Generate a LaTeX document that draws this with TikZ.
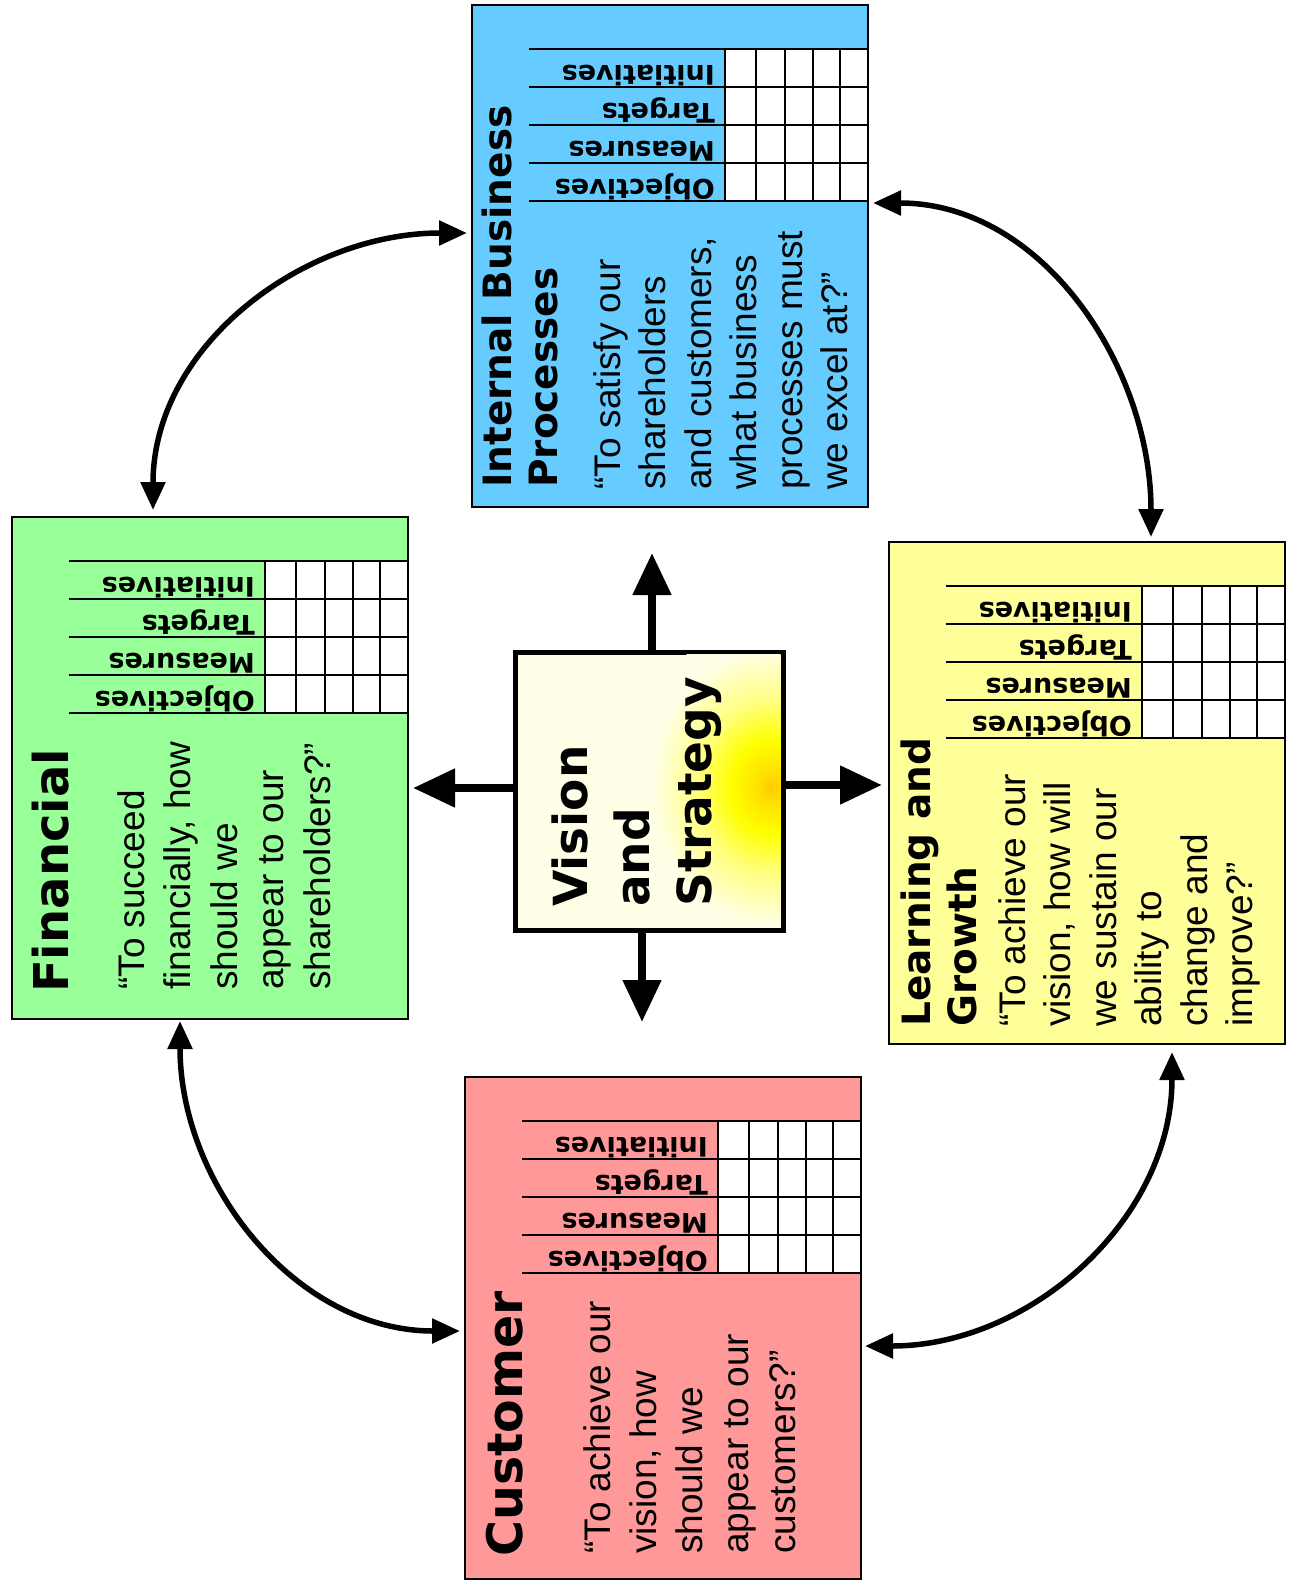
\documentclass[tikz,border=0pt]{standalone}
\usepackage{fontspec}
\setmainfont{Liberation Sans}
\newfontfamily\bscbold{DejaVu Sans}
\usetikzlibrary{arrows.meta}

\definecolor{ibpblue}{RGB}{102,204,255}
\definecolor{fingreen}{RGB}{153,255,153}
\definecolor{lgyellow}{RGB}{255,255,153}
\definecolor{cuspink}{RGB}{255,153,153}
\definecolor{vscream}{RGB}{255,255,232}
\definecolor{vscore}{RGB}{255,200,0}

% warm glow in the vision-and-strategy box
\pgfdeclareradialshading{vsglow}{\pgfpoint{0bp}{0bp}}{%
  color(0bp)=(vscore); color(2bp)=(vscore!60!yellow); color(7bp)=(yellow);
  color(13bp)=(yellow!45!vscream); color(21bp)=(vscream); color(50bp)=(vscream)}

% the measurement table in the upper right part of a perspective panel
\newcommand\bsctable[1]{%
  \fill[white] (253,44) rectangle (396,196);
  \foreach \yy in {44,82,120,158,196} \draw[gridline] (57,\yy) -- (396,\yy);
  \foreach \xx in {253,284,313,341,368,396} \draw[gridline] (\xx,44) -- (\xx,196);
  \node[rowlabel] (#1-ini) at (243,63) {Initiatives};
  \node[rowlabel] (#1-tar) at (243,101) {Targets};
  \node[rowlabel] (#1-mea) at (243,139) {Measures};
  \node[rowlabel] (#1-obj) at (243,177) {Objectives};
}

\begin{document}
\begin{tikzpicture}[x=1pt, y=-1pt,
  panel/.style={draw, line width=2.5pt, minimum width=396pt, minimum height=502pt,
    anchor=north west, inner sep=0pt, outer sep=0pt},
  gridline/.style={line width=2.5pt},
  rowlabel/.style={rotate=180, anchor=mid west, inner sep=0pt,
    font=\bscbold\bfseries\fontsize{27}{27}\selectfont},
  titletext/.style={rotate=90, anchor=north west, align=left, inner sep=0pt},
  quotetext/.style={titletext, font=\fontsize{37}{45.5}\selectfont},
  linkarrow/.style={line width=5.5pt,
    {Triangle[width=24pt,length=28pt]}-{Triangle[width=24pt,length=28pt]}},
  vsarrow/.style={line width=8pt, -{Triangle[width=37pt,length=42pt]}}]

\useasboundingbox (0,0) rectangle (1290,1585);
\fill[white] (0,0) rectangle (1290,1585);

% Internal Business Processes
\begin{scope}[shift={(472,5)}]
  \node[panel, fill=ibpblue] (ibp) at (0,0) {};
  \bsctable{ibp}
  \node[titletext, font=\bscbold\bfseries\fontsize{39}{46}\selectfont] (ibp-title) at (10,483)
    {Internal Business\\Processes};
  \node[quotetext] (ibp-quote) at (121,485)
    {“To satisfy our\\shareholders\\and customers,\\what business\\processes must\\we excel at?”};
\end{scope}

% Financial
\begin{scope}[shift={(12,517)}]
  \node[panel, fill=fingreen] (fin) at (0,0) {};
  \bsctable{fin}
  \node[titletext, font=\bscbold\bfseries\fontsize{48}{54}\selectfont] (fin-title) at (20,476)
    {Financial};
  \node[quotetext, font=\fontsize{37}{46.5}\selectfont] (fin-quote) at (105,473)
    {“To succeed\\financially, how\\should we\\appear to our\\shareholders?”};
\end{scope}

% Learning and Growth
\begin{scope}[shift={(889,542)}]
  \node[panel, fill=lgyellow] (lg) at (0,0) {};
  \bsctable{lg}
  \node[titletext, font=\bscbold\bfseries\fontsize{39}{46}\selectfont] (lg-title) at (12,485)
    {Learning and\\Growth};
  \node[quotetext] (lg-quote) at (109,485)
    {“To achieve our\\vision, how will\\we sustain our\\ability to\\change and\\improve?”};
\end{scope}

% Customer
\begin{scope}[shift={(465,1077)}]
  \node[panel, fill=cuspink] (cus) at (0,0) {};
  \bsctable{cus}
  \node[titletext, font=\bscbold\bfseries\fontsize{49}{54}\selectfont] (cus-title) at (21,480)
    {Customer};
  \node[quotetext, font=\fontsize{37}{46.3}\selectfont] (cus-quote) at (118,477)
    {“To achieve our\\vision, how\\should we\\appear to our\\customers?”};
\end{scope}

% Vision and Strategy
\node[draw, line width=5pt, fill=vscream, minimum width=268pt, minimum height=278pt,
  inner sep=0pt, outer sep=0pt] (vs) at (649,791) {};
\begin{scope}
  \clip ([shift={(2.5pt,2.5pt)}]vs.south west) rectangle ([shift={(-2.5pt,-2.5pt)}]vs.north east);
  \shade[shading=vsglow] (770,787) ellipse [x radius=140, y radius=165];
\end{scope}
\node[titletext, font=\bscbold\bfseries\fontsize{47}{62}\selectfont] (vs-text) at (552,907)
  {Vision\\and\\Strategy};

% arrows out of the centre
\coordinate (vs-up) at (652,553);
\coordinate (vs-down) at (642,1022);
\coordinate (vs-right) at (882,785);
\coordinate (vs-left) at (413,788);
\draw[vsarrow] (vs.north -| vs-up) -- (vs-up);
\draw[vsarrow] (vs.south -| vs-down) -- (vs-down);
\draw[vsarrow] (vs.east |- vs-right) -- (vs-right);
\draw[vsarrow] (vs.west |- vs-left) -- (vs-left);

% links between neighbouring perspectives
\draw[linkarrow] ([shift={(-5pt,23pt)}]ibp.west) to[out=180, in=90]
  ([shift={(-57pt,7pt)}]fin.north);
\draw[linkarrow] ([shift={(5pt,53pt)}]ibp.east) to[out=0, in=90]
  ([shift={(64pt,5pt)}]lg.north);
\draw[linkarrow] ([shift={(-30pt,-2pt)}]fin.south) to[out=270, in=180]
  ([shift={(-5pt,-3pt)}]cus.west);
\draw[linkarrow] ([shift={(4pt,-18pt)}]cus.east) to[out=0, in=270]
  ([shift={(85pt,-8pt)}]lg.south);
\end{tikzpicture}
\end{document}
